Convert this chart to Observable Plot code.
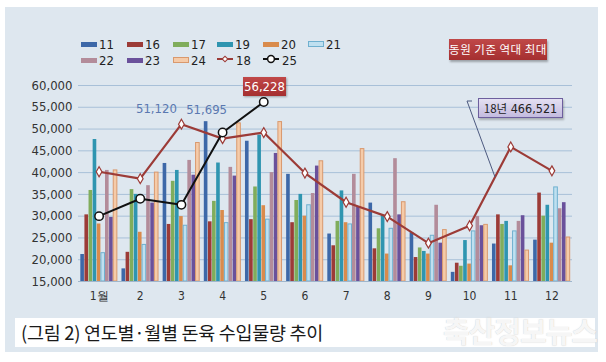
<!DOCTYPE html>
<html><head><meta charset="utf-8">
<script src="https://cdn.jsdelivr.net/npm/d3@7"></script>
<script src="https://cdn.jsdelivr.net/npm/@observablehq/plot@0.6"></script>
<style>
html,body{margin:0;padding:0;background:#fff;}
#wrap{position:relative;width:606px;height:362px;overflow:hidden;font-family:"Liberation Sans Narrow","DejaVu Sans Condensed","Roboto Condensed","Liberation Sans",sans-serif;font-stretch:condensed;}
#panel{position:absolute;left:5px;top:7px;width:593px;height:345px;background:#dee7ef;}
#chart{position:absolute;left:0;top:0;}
.leg{position:absolute;font-size:13px;color:#222;display:flex;align-items:center;height:14px;}
.sw{display:inline-block;width:16px;height:5px;margin-right:2px;box-sizing:border-box;}
.kr{font-family:"Noto Sans CJK KR","Noto Sans",sans-serif;}
</style></head>
<body>
<div id="wrap">
<div id="panel"></div>
<div id="chart"></div>
</div>
<script>
const months = [1,2,3,4,5,6,7,8,9,10,11,12];
const monthLabels = ["1월","2","3","4","5","6","7","8","9","10","11","12"];
const yTicks = [15000,20000,25000,30000,35000,40000,45000,50000,55000,60000];
const barSeries = ["11","16","17","19","20","21","22","23","24"];
const v11 = [21200,17900,42100,51695,47200,39600,25900,33000,26200,17100,23600,24500];
const v16 = [30300,21700,28100,28700,29200,28500,23200,22500,20500,19200,30300,35300];
const v17 = [35900,36100,38000,33400,36700,33600,28800,27100,22700,18500,28100,30000];
const v19 = [47600,35000,40500,42200,48600,35000,35800,30200,21900,24400,28800,32500];
const v20 = [28200,26300,29900,31300,32400,30000,28500,21300,21300,19000,18600,23800];
const v21 = [21500,23400,27800,28400,29200,32500,28100,27100,25500,26500,26500,36600];
const v22 = [40500,37000,42800,41200,40000,35200,39600,43200,32500,29900,28800,31700];
const v23 = [29700,33000,39400,39200,44400,41500,32000,30300,23800,27800,30100,33100];
const v24 = [40500,40000,46800,51300,51600,42600,45400,33200,26800,28000,22100,25100];
const v18 = [40200,38600,51120,47800,49200,39900,33200,29900,23800,27800,45900,40400];
const v25 = [30000,34000,32600,49200,56228];
const total18 = 466521;
const barValues = [v11,v16,v17,v19,v20,v21,v22,v23,v24];
const barFill = ["#3d68a8","#9c3b37","#80ad5c","#2f95b0","#d98b4c","#bfe0f0","#b38c9a","#6a519b","#f5cba9"];
const barStroke = [null,null,null,null,null,"#6fb0cf",null,null,"#d9996e"];

const yBase = yTicks[0];
const n = barSeries.length;
const groupW = 0.9, barW = groupW / n;

const marks = [
  Plot.gridY({ticks: yTicks, stroke: "#a8c0d8", strokeOpacity: 1}),
];
barSeries.forEach((s, k) => {
  marks.push(Plot.rectY(months, {
    x1: m => m - groupW/2 + k*barW + 0.006,
    x2: m => m - groupW/2 + (k+1)*barW - 0.006,
    y1: () => yBase,
    y2: (m, i) => barValues[k][i],
    fill: barFill[k],
    stroke: barStroke[k] || "none",
    strokeWidth: 1
  }));
});
marks.push(
  Plot.ruleY([yBase], {stroke: "#9fb6cc"}),
  Plot.line(months, {x: m => m, y: (m,i) => v18[i], stroke: "#9c3b37", strokeWidth: 2.2}),
  Plot.dot(months, {x: m => m, y: (m,i) => v18[i], symbol: "diamond", r: 3, fill: "#fff", stroke: "#9c3b37", strokeWidth: 1.2}),
  Plot.line(months.slice(0, v25.length), {x: m => m, y: (m,i) => v25[i], stroke: "#111", strokeWidth: 2}),
  Plot.dot(months.slice(0, v25.length), {x: m => m, y: (m,i) => v25[i], r: 4.2, fill: "#fff", stroke: "#111", strokeWidth: 1.5}),
  Plot.text([3], {x: m => m, y: m => v18[m-1], text: m => d3.format(",")(v18[m-1]), dx: -25, dy: -15, fill: "#5a78b0", fontSize: 13}),
  Plot.text([4], {x: m => m, y: m => v11[m-1], text: m => d3.format(",")(v11[m-1]), dx: -16, dy: -12, fill: "#5a78b0", fontSize: 13}),
  Plot.axisY({ticks: yTicks, tickFormat: d3.format(","), tickSize: 0, tickPadding: 6, fontSize: 13, fill: "#333"}),
  Plot.axisX({ticks: months, tickFormat: (m) => monthLabels[m-1], tickSize: 0, tickPadding: 10, fontSize: 12, fill: "#333"})
);

const chart = Plot.plot({
  width: 606, height: 362,
  marginLeft: 78, marginRight: 34, marginTop: 85, marginBottom: 81,
  x: {domain: [0.5, 12.5]},
  y: {domain: [yTicks[0], yTicks[yTicks.length-1]]},
  style: {background: "transparent", fontFamily: '"Liberation Sans Narrow","DejaVu Sans Condensed","Liberation Sans",sans-serif', fontSize: "13px"},
  marks
});
document.getElementById("chart").appendChild(chart);

const wrap = document.getElementById("wrap");
function add(html){ const d = document.createElement("div"); d.innerHTML = html; while (d.firstChild) wrap.appendChild(d.firstChild); }

// legend
const legX = [81,127,173,217,263,308];
barSeries.forEach((s, k) => {
  const row = k < 6 ? 0 : 1, col = k < 6 ? k : k - 6;
  const border = barStroke[k] ? `border:1px solid ${barStroke[k]};height:6px;` : "";
  add(`<div class="leg" style="left:${legX[col]}px;top:${row ? 53 : 37}px"><span class="sw" style="background:${barFill[k]};${border}"></span>${s}</div>`);
});
const lineLeg = [["18","#9c3b37","diamond"],["25","#111","circle"]];
lineLeg.forEach(([s, c, sym], j) => {
  const mark = sym === "diamond"
    ? `<rect x="6" y="1" width="4" height="4" transform="rotate(45 8 3)" fill="#fff" stroke="${c}" stroke-width="1.1"/>`
    : `<circle cx="8" cy="3" r="3.4" fill="#fff" stroke="${c}" stroke-width="1.5"/>`;
  add(`<div class="leg" style="left:${legX[3+j]}px;top:53px"><svg width="17" height="8" style="margin-right:2px;overflow:visible"><line x1="0" x2="16" y1="3" y2="3" stroke="${c}" stroke-width="2"/>${mark}</svg>${s}</div>`);
});

// annotation boxes
add(`<div class="kr" style="position:absolute;left:449px;top:39px;width:98px;height:21px;background:linear-gradient(#c04848,#a52f30);color:#fff;font-size:11.5px;line-height:21px;text-align:center;box-shadow:1px 2px 2px rgba(0,0,0,0.3);letter-spacing:0.5px">동원 기준 역대 최대</div>`);
add(`<div style="position:absolute;left:243px;top:77px;width:43px;height:19px;background:linear-gradient(#c04848,#a52f30);color:#fff;font-size:13px;line-height:19px;text-align:center;box-shadow:1px 1px 2px rgba(0,0,0,0.3)">${d3.format(",")(v25[4])}</div>`);
add(`<svg style="position:absolute;left:0;top:0" width="606" height="362"><polyline points="472,101 467,101 495,177" fill="none" stroke="#4d5a80" stroke-width="1"/></svg>`);
add(`<div style="position:absolute;left:478px;top:98px;width:83px;height:18px;background:linear-gradient(#e4e0f2,#c3bbdf);border:1px solid #6d5f9e;color:#222;font-size:12.5px;line-height:18px;text-align:center;box-shadow:1px 2px 2px rgba(0,0,0,0.25)"><span class="kr" style="font-size:11.5px">18년</span> ${d3.format(",")(total18)}</div>`);

// caption
add(`<div style="position:absolute;left:15px;top:318px;width:580px;height:29px;background:#fff"></div>`);
add(`<div class="kr" style="position:absolute;left:21px;top:318px;height:29px;line-height:29px;font-size:18.5px;color:#1a1a1a;letter-spacing:-0.3px">(그림 2) 연도별·월별 돈육 수입물량 추이</div>`);
add(`<div class="kr" style="position:absolute;right:9px;top:312px;height:36px;line-height:36px;font-size:29px;font-weight:bold;color:rgba(250,250,250,0.95);text-shadow:0 0 1px rgba(170,170,170,0.7);letter-spacing:-1px">축산정보뉴스</div>`);
</script>
</body></html>
